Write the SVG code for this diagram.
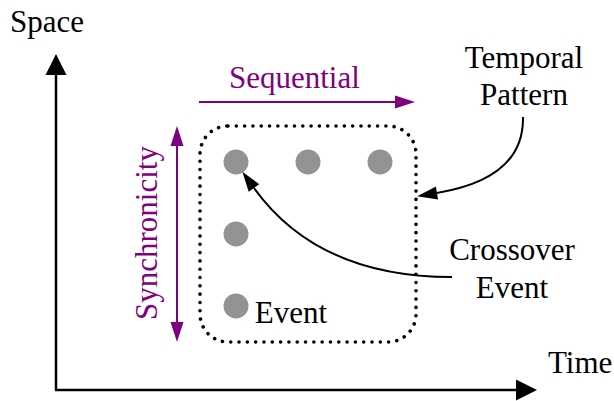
<svg xmlns="http://www.w3.org/2000/svg" width="614" height="401" viewBox="0 0 614 401">
  <style>
    text { font-family: "Liberation Serif", "Times New Roman", serif; font-size: 31px; fill: #000; }
    .purple { fill: #800080; }
    .mid { text-anchor: middle; }
    .axis { stroke: #000; stroke-width: 2.5; fill: none; }
    .parrow { stroke: #800080; stroke-width: 2; fill: none; }
    .curve { stroke: #000; stroke-width: 2; fill: none; }
    .event { fill: #939393; }
    .frame { fill: none; stroke: #000; stroke-width: 3.6; stroke-linecap: round; stroke-dasharray: 0.01 8.3; }
  </style>
  <defs>
    <marker id="axisHead" markerUnits="userSpaceOnUse" markerWidth="22" markerHeight="22" refX="0" refY="10.5" orient="auto" overflow="visible">
      <path d="M0,0 L21,10.5 L0,21 Z" fill="#000"/>
    </marker>
    <marker id="purpleHead" markerUnits="userSpaceOnUse" markerWidth="21" markerHeight="14" refX="0" refY="6.5" orient="auto" overflow="visible">
      <path d="M0,0 L20,6.5 L0,13 Z" fill="#800080"/>
    </marker>
    <marker id="curveHead" markerUnits="userSpaceOnUse" markerWidth="21" markerHeight="14" refX="0" refY="6.5" orient="auto" overflow="visible">
      <path d="M0,0 L20,6.5 L0,13 Z" fill="#000"/>
    </marker>
  </defs>

  <!-- axes -->
  <g id="axes">
    <path class="axis" d="M56,390 L56,75" marker-end="url(#axisHead)"/>
    <path class="axis" d="M55,390 L516,390" marker-end="url(#axisHead)"/>
    <text x="10" y="32">Space</text>
    <text x="548" y="373">Time</text>
  </g>

  <!-- sequential / synchronicity directions -->
  <g id="sequential">
    <path class="parrow" d="M199,102 L395,102" marker-end="url(#purpleHead)"/>
    <text class="purple" x="229" y="88">Sequential</text>
  </g>
  <g id="synchronicity">
    <path class="parrow" d="M177,234 L177,146" marker-end="url(#purpleHead)"/>
    <path class="parrow" d="M177,234 L177,322" marker-end="url(#purpleHead)"/>
    <text class="purple mid" transform="translate(157,233) rotate(-90)">Synchronicity</text>
  </g>

  <!-- temporal pattern frame -->
  <g id="pattern">
    <rect class="frame" x="200" y="126" width="216" height="216" rx="28" ry="28"/>
  </g>

  <!-- events -->
  <g id="event-1"><circle class="event" cx="236" cy="162" r="12.5"/></g>
  <g id="event-2"><circle class="event" cx="308" cy="162" r="12.5"/></g>
  <g id="event-3"><circle class="event" cx="380" cy="162" r="12.5"/></g>
  <g id="event-4"><circle class="event" cx="236" cy="234" r="12.5"/></g>
  <g id="event-5"><circle class="event" cx="236" cy="306" r="12.5"/></g>
  <g id="event-label"><text class="mid" x="291" y="323">Event</text></g>

  <!-- callout labels -->
  <g id="temporal-label">
    <text class="mid" x="524" y="68">Temporal</text>
    <text class="mid" x="524" y="105">Pattern</text>
  </g>
  <g id="crossover-label">
    <text class="mid" x="512" y="260">Crossover</text>
    <text class="mid" x="512" y="298">Event</text>
  </g>

  <!-- connectors -->
  <g id="connectors">
    <path class="curve" d="M523,117 C524,165 485,185 437,193" marker-end="url(#curveHead)"/>
    <path class="curve" d="M452,277 C360,277 295,245 254,188" marker-end="url(#curveHead)"/>
  </g>
</svg>
